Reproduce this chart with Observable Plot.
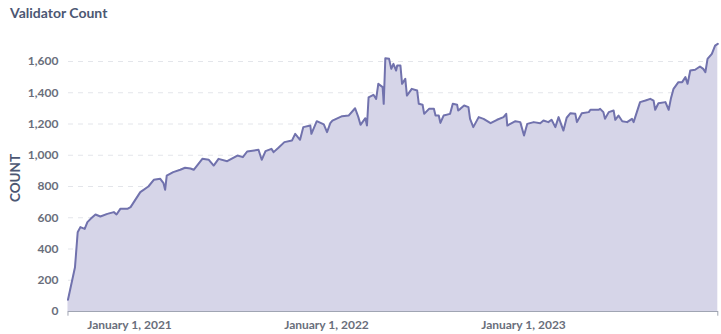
<!DOCTYPE html>
<html>
<head>
<meta charset="utf-8">
<script src="https://cdn.jsdelivr.net/npm/d3@7"></script>
<script src="https://cdn.jsdelivr.net/npm/@observablehq/plot@0.6"></script>
<style>
  html, body { margin: 0; padding: 0; background: #fff; }
  #wrap { position: relative; width: 721px; height: 334px; overflow: hidden; }
  #title { position: absolute; left: 10px; top: 6px; font: 700 14px/14px Lato, sans-serif; color: #4c5773; white-space: nowrap; }
  #chart svg { display: block; }
</style>
</head>
<body>
<div id="wrap">
  <div id="title">Validator Count</div>
  <div id="chart"></div>
</div>
<script>
const titleText = "Validator Count";
const yLabel = "COUNT";
const yTicks = [0, 200, 400, 600, 800, 1000, 1200, 1400, 1600];
const xTicks = ["2021-01-01", "2022-01-01", "2023-01-01"];

const dates = [
  "2020-09-09","2020-09-22","2020-09-27","2020-10-02","2020-10-10","2020-10-15","2020-10-21","2020-10-30",
  "2020-11-08","2020-11-21","2020-12-03","2020-12-08","2020-12-15","2020-12-28",
  "2021-01-03","2021-01-21","2021-02-05","2021-02-15","2021-02-27","2021-03-05","2021-03-08","2021-03-11",
  "2021-03-23","2021-04-05","2021-04-14","2021-04-24","2021-04-30","2021-05-16","2021-05-28","2021-06-06",
  "2021-06-15","2021-07-01","2021-07-20","2021-07-30","2021-08-07","2021-08-28","2021-09-03","2021-09-10",
  "2021-09-21","2021-09-25","2021-10-04","2021-10-15","2021-10-29","2021-11-04","2021-11-13","2021-11-19",
  "2021-12-02","2021-12-04","2021-12-14","2021-12-27",
  "2022-01-02","2022-01-08","2022-01-12","2022-01-30","2022-02-11","2022-02-23","2022-03-01","2022-03-05",
  "2022-03-14","2022-03-17","2022-03-20","2022-03-29","2022-04-03","2022-04-07","2022-04-15","2022-04-17",
  "2022-04-20","2022-04-27","2022-05-01","2022-05-05","2022-05-10","2022-05-12","2022-05-18","2022-05-21",
  "2022-05-27","2022-05-30","2022-06-08","2022-06-18","2022-06-21","2022-06-28","2022-07-01","2022-07-10",
  "2022-07-19","2022-07-22","2022-07-28","2022-07-31","2022-08-06","2022-08-18","2022-08-23","2022-08-31",
  "2022-09-02","2022-09-06","2022-09-13","2022-09-21","2022-09-24","2022-09-30","2022-10-10","2022-10-19",
  "2022-11-01","2022-11-13","2022-11-25","2022-11-30","2022-12-02","2022-12-17","2022-12-26",
  "2023-01-02","2023-01-08","2023-01-20","2023-02-01","2023-02-07","2023-02-16","2023-02-22","2023-03-01",
  "2023-03-07","2023-03-16","2023-03-22","2023-03-29","2023-04-07","2023-04-10","2023-04-19","2023-05-02",
  "2023-05-05","2023-05-20","2023-05-23","2023-05-29","2023-06-01","2023-06-08","2023-06-17","2023-06-20",
  "2023-06-26","2023-07-03","2023-07-12","2023-07-21","2023-07-24","2023-07-30","2023-08-05","2023-08-15",
  "2023-08-24","2023-08-30","2023-09-02","2023-09-08","2023-09-21","2023-09-27","2023-10-01","2023-10-06",
  "2023-10-15","2023-10-22","2023-10-28","2023-11-01","2023-11-06","2023-11-15","2023-11-24","2023-11-30",
  "2023-12-04","2023-12-08","2023-12-16","2023-12-22","2023-12-27"
];
const values = [
  75, 283, 507, 540, 529, 572, 593, 621,
  608, 625, 636, 621, 657, 657,
  668, 764, 800, 843, 849, 821, 779, 870,
  892, 907, 920, 915, 907, 977, 971, 934,
  977, 962, 998, 988, 1024, 1035, 971, 1026,
  1041, 1020, 1048, 1084, 1094, 1137, 1099, 1180,
  1190, 1137, 1218, 1197,
  1148, 1205, 1222, 1250, 1254, 1301, 1244, 1195,
  1237, 1190, 1371, 1387, 1361, 1457, 1436, 1329,
  1621, 1617, 1553, 1585, 1542, 1574, 1574, 1457,
  1489, 1382, 1425, 1414, 1329, 1323, 1265, 1297,
  1297, 1254, 1254, 1207, 1254, 1265, 1329, 1323,
  1286, 1297, 1318, 1308, 1233, 1180, 1244, 1233,
  1205, 1227, 1244, 1265, 1190, 1218, 1212,
  1126, 1201, 1212, 1205, 1222, 1212, 1227, 1180,
  1244, 1158, 1240, 1269, 1265, 1212, 1269, 1276,
  1291, 1291, 1297, 1276, 1233, 1276, 1286, 1227,
  1254, 1218, 1212, 1233, 1212, 1276, 1340, 1350,
  1361, 1350, 1291, 1333, 1340, 1291, 1361, 1425,
  1468, 1468, 1500, 1457, 1542, 1547, 1568, 1553,
  1532, 1617, 1649, 1702, 1713
];

document.getElementById("title").textContent = titleText;

const data = dates.map((d, i) => ({date: new Date(d), value: values[i]}));
const xTickDates = xTicks.map(d => new Date(d));
const ends = [data[0].date, data[data.length - 1].date];

const chart = Plot.plot({
  width: 721,
  height: 334,
  marginLeft: 68,
  marginRight: 3,
  marginTop: 44,
  marginBottom: 23,
  style: {fontFamily: "Lato, sans-serif", fontSize: "12px", fontWeight: 700, color: "#696e7b", background: "transparent"},
  x: {type: "utc", domain: [xTickDates[0], xTickDates[2]], range: [129, 523]},
  y: {domain: [0, 1600], range: [311, 61]},
  marks: [
    Plot.gridY(yTicks, {stroke: "#e3e5ea", strokeOpacity: 1, strokeWidth: 1, strokeDasharray: "5,5"}),
    Plot.areaY(data, {x: "date", y: "value", fill: "#d6d5e8"}),
    Plot.lineY(data, {x: "date", y: "value", stroke: "#7172ad", strokeWidth: 2}),
    Plot.ruleY([0], {stroke: "#a0a5b3", strokeWidth: 1}),
    Plot.ruleX(ends, {y1: 0, y2: -30, stroke: "#a0a5b3", strokeWidth: 1}),
    Plot.axisY(yTicks, {
      tickSize: 0, tickPadding: 10, tickFormat: d3.format(","),
      fill: "#696e7b", fontWeight: 700,
      label: yLabel, labelAnchor: "center", labelArrow: "none", labelOffset: 58
    }),
    Plot.axisX(xTickDates, {
      tickSize: 0, tickPadding: 9, tickFormat: d3.utcFormat("%B %-d, %Y"),
      fill: "#696e7b", fontWeight: 700, label: null
    })
  ]
});
document.getElementById("chart").appendChild(chart);
chart.querySelectorAll("text").forEach(t => { if (t.textContent === yLabel) { t.setAttribute("fill", "#4c5773"); t.style.fontSize = "13.5px"; } });
</script>
</body>
</html>
